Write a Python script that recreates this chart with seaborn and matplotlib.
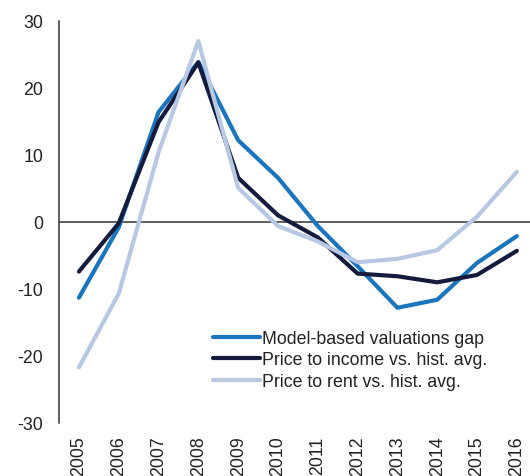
import numpy as np
import pandas as pd
import matplotlib
matplotlib.use("Agg")
import matplotlib.pyplot as plt
import seaborn as sns

years = list(range(2005, 2017))
model_gap = [-11.3, -0.8, 16.4, 23.9, 12.2, 6.6, -0.6, -6.6, -12.8, -11.6, -6.1, -2.1]
price_income = [-7.4, -0.2, 14.9, 23.8, 6.6, 1.0, -2.3, -7.7, -8.1, -9.0, -7.9, -4.3]
price_rent = [-21.7, -10.7, 10.4, 27.0, 5.1, -0.6, -2.9, -6.0, -5.5, -4.2, 0.8, 7.5]

labels = ["Model-based valuations gap", "Price to income vs. hist. avg.", "Price to rent vs. hist. avg."]
colors = ["#1B75BC", "#141B3D", "#B8C8E2"]

df = pd.DataFrame({
    "year": years * 3,
    "value": model_gap + price_income + price_rent,
    "series": [labels[0]] * 12 + [labels[1]] * 12 + [labels[2]] * 12,
})

sns.set_theme(style="white")
plt.rcParams["font.family"] = ["Liberation Sans", "DejaVu Sans"]
plt.rcParams["axes.unicode_minus"] = False

fig = plt.figure(figsize=(5.3, 4.77), dpi=100)
ax = fig.add_axes([59 / 530, 53 / 477, 471 / 530, 402 / 477])

sns.lineplot(data=df, x="year", y="value", hue="series", palette=colors,
             linewidth=3.0, ax=ax, legend=True)
for ln in ax.lines:
    ln.set_solid_capstyle("round")

ax.axhline(0, color="#333333", linewidth=1.1, zorder=0)

ax.set_xlim(2004.5, 2016.33)
ax.set_ylim(-30, 30)
ax.set_yticks([-30, -20, -10, 0, 10, 20, 30])
ax.set_xticks(years)
ax.set_xticklabels([str(y) for y in years], rotation=90)
ax.tick_params(axis="both", length=0, labelsize=12.8, colors="#222222")
ax.tick_params(axis="y", pad=11.5)
ax.tick_params(axis="x", pad=9)
ax.set_xlabel("")
ax.set_ylabel("")

for s in ["top", "right", "bottom"]:
    ax.spines[s].set_visible(False)
ax.spines["left"].set_color("#333333")
ax.spines["left"].set_linewidth(1.1)

leg = ax.legend(loc="center left", bbox_to_anchor=(0.327, 0.157), frameon=False,
                fontsize=12.8, handlelength=2.65, handletextpad=0.12,
                labelspacing=0.25, borderpad=0, borderaxespad=0)
for t in leg.get_texts():
    t.set_color("#222222")

fig.savefig("out.png", dpi=100)
